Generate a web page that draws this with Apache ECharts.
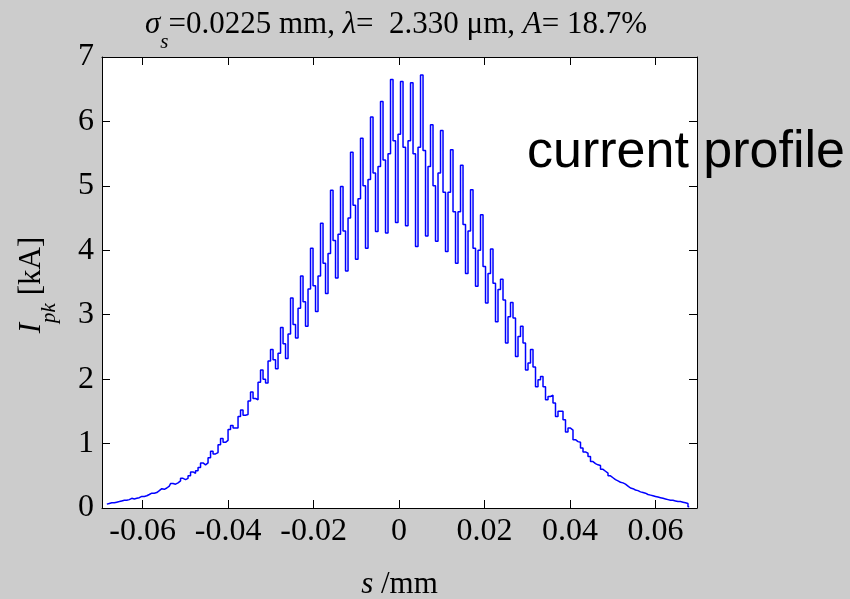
<!DOCTYPE html>
<html>
<head>
<meta charset="utf-8">
<script src="https://cdn.jsdelivr.net/npm/echarts@6/dist/echarts.min.js"></script>
<style>
  html, body { margin: 0; padding: 0; background: #cccccc; }
  #chart { width: 850px; height: 599px; }
</style>
</head>
<body>
<div id="chart"></div>
<script>
// Longitudinal position of each histogram bin centre, in mm
const sMm = [
  -0.06837, -0.06779,
  -0.06721, -0.06662, -0.06604, -0.06545,
  -0.06487, -0.06428, -0.06370, -0.06311,
  -0.06253, -0.06194, -0.06136, -0.06077,
  -0.06019, -0.05960, -0.05902, -0.05843,
  -0.05785, -0.05726, -0.05668, -0.05609,
  -0.05551, -0.05492, -0.05434, -0.05375,
  -0.05317, -0.05259, -0.05200, -0.05142,
  -0.05083, -0.05025, -0.04966, -0.04908,
  -0.04849, -0.04791, -0.04732, -0.04674,
  -0.04615, -0.04557, -0.04498, -0.04440,
  -0.04381, -0.04323, -0.04264, -0.04206,
  -0.04147, -0.04089, -0.04030, -0.03972,
  -0.03913, -0.03855, -0.03797, -0.03738,
  -0.03680, -0.03621, -0.03563, -0.03504,
  -0.03446, -0.03387, -0.03329, -0.03270,
  -0.03212, -0.03153, -0.03095, -0.03036,
  -0.02978, -0.02919, -0.02861, -0.02802,
  -0.02744, -0.02685, -0.02627, -0.02568,
  -0.02510, -0.02451, -0.02393, -0.02334,
  -0.02276, -0.02218, -0.02159, -0.02101,
  -0.02042, -0.01984, -0.01925, -0.01867,
  -0.01808, -0.01750, -0.01691, -0.01633,
  -0.01574, -0.01516, -0.01457, -0.01399,
  -0.01340, -0.01282, -0.01223, -0.01165,
  -0.01106, -0.01048, -0.00990, -0.00931,
  -0.00873, -0.00814, -0.00756, -0.00697,
  -0.00639, -0.00580, -0.00522, -0.00463,
  -0.00405, -0.00346, -0.00288, -0.00229,
  -0.00171, -0.00112, -0.00054, 0.00005,
  0.00063, 0.00122, 0.00180, 0.00239,
  0.00297, 0.00356, 0.00414, 0.00473,
  0.00531, 0.00590, 0.00648, 0.00706,
  0.00765, 0.00823, 0.00882, 0.00940,
  0.00999, 0.01057, 0.01116, 0.01174,
  0.01233, 0.01291, 0.01350, 0.01408,
  0.01467, 0.01525, 0.01584, 0.01642,
  0.01701, 0.01759, 0.01818, 0.01876,
  0.01935, 0.01993, 0.02052, 0.02110,
  0.02168, 0.02227, 0.02285, 0.02344,
  0.02402, 0.02461, 0.02519, 0.02578,
  0.02636, 0.02695, 0.02753, 0.02812,
  0.02870, 0.02929, 0.02987, 0.03046,
  0.03104, 0.03163, 0.03221, 0.03280,
  0.03338, 0.03397, 0.03455, 0.03514,
  0.03572, 0.03630, 0.03689, 0.03747,
  0.03806, 0.03864, 0.03923, 0.03981,
  0.04040, 0.04098, 0.04157, 0.04215,
  0.04274, 0.04332, 0.04391, 0.04449,
  0.04508, 0.04566, 0.04625, 0.04683,
  0.04742, 0.04800, 0.04859, 0.04917,
  0.04975, 0.05034, 0.05092, 0.05151,
  0.05209, 0.05268, 0.05326, 0.05385,
  0.05443, 0.05502, 0.05560, 0.05619,
  0.05677, 0.05736, 0.05794, 0.05853,
  0.05911, 0.05970, 0.06028, 0.06087,
  0.06145, 0.06204, 0.06262, 0.06321,
  0.06379, 0.06437, 0.06496, 0.06554,
  0.06613, 0.06671, 0.06730, 0.06788
];

// Peak current in each bin, in kA
const iKA = [
  0.06, 0.07,
  0.08, 0.08, 0.09, 0.10,
  0.11, 0.12, 0.12, 0.13,
  0.15, 0.14, 0.15, 0.16,
  0.18, 0.18, 0.19, 0.21,
  0.23, 0.23, 0.24, 0.27,
  0.30, 0.29, 0.31, 0.34,
  0.38, 0.37, 0.39, 0.42,
  0.46, 0.44, 0.46, 0.50,
  0.56, 0.54, 0.58, 0.63,
  0.70, 0.67, 0.70, 0.78,
  0.88, 0.84, 0.86, 0.98,
  1.08, 1.02, 1.05, 1.22,
  1.28, 1.24, 1.24, 1.42,
  1.52, 1.44, 1.45, 1.66,
  1.80, 1.70, 1.68, 1.95,
  2.14, 2.00, 1.94, 2.28,
  2.46, 2.30, 2.16, 2.40,
  2.80, 2.55, 2.32, 2.70,
  3.26, 2.85, 2.64, 3.10,
  3.60, 3.20, 2.82, 3.40,
  4.03, 3.45, 3.05, 3.60,
  4.42, 3.80, 3.33, 3.95,
  4.93, 4.15, 3.57, 4.25,
  4.99, 4.30, 3.68, 4.50,
  5.52, 4.70, 3.86, 4.80,
  5.74, 5.00, 4.03, 5.10,
  6.07, 5.20, 4.29, 5.30,
  6.31, 5.40, 4.27, 5.50,
  6.65, 5.70, 4.43, 5.80,
  6.62, 5.60, 4.38, 5.70,
  6.60, 5.50, 4.06, 5.60,
  6.72, 5.55, 4.22, 5.30,
  5.95, 5.00, 4.14, 5.20,
  5.86, 4.90, 3.98, 4.90,
  5.56, 4.60, 3.80, 4.60,
  5.32, 4.40, 3.64, 4.30,
  4.94, 4.03, 3.44, 4.00,
  4.55, 3.75, 3.18, 3.64,
  4.02, 3.49, 2.89, 3.39,
  3.55, 3.23, 2.56, 2.97,
  3.19, 2.95, 2.35, 2.66,
  2.82, 2.56, 2.14, 2.25,
  2.46, 2.19, 1.88, 1.99,
  2.04, 1.88, 1.68, 1.73,
  1.75, 1.63, 1.42, 1.50,
  1.50, 1.37, 1.18, 1.24,
  1.21, 1.06, 1.03, 1.02,
  0.93, 0.87, 0.85, 0.80,
  0.72, 0.69, 0.67, 0.66,
  0.60, 0.57, 0.54, 0.50,
  0.47, 0.44, 0.42, 0.40,
  0.39, 0.37, 0.34, 0.31,
  0.30, 0.28, 0.27, 0.25,
  0.24, 0.23, 0.21, 0.20,
  0.19, 0.18, 0.17, 0.16,
  0.15, 0.14, 0.13, 0.12,
  0.12, 0.11, 0.10, 0.10,
  0.09, 0.08, 0.07, 0.02
];

const xTicks = [-0.06, -0.04, -0.02, 0, 0.02, 0.04, 0.06];
const xLabels = ['-0.06', '-0.04', '-0.02', '0', '0.02', '0.04', '0.06'];
const yMin = 0, yMax = 7, yStep = 1;
const xMin = -0.0695, xMax = 0.0697;

const serif = 'Liberation Serif';
const chart = echarts.init(document.getElementById('chart'), null, { renderer: 'canvas' });

const boxAxisX = (pos, withLabels) => ({
  type: 'value', position: pos, min: xMin, max: xMax,
  axisLine: { show: true, onZero: false, lineStyle: { color: '#000', width: 1 } },
  axisTick: { show: true, inside: true, length: 8, customValues: xTicks, lineStyle: { color: '#000', width: 1 } },
  axisLabel: {
    show: withLabels, customValues: xTicks, margin: 8,
    fontFamily: serif, fontSize: 32, color: '#000',
    formatter: v => xLabels[xTicks.findIndex(t => Math.abs(t - v) < 1e-9)]
  },
  splitLine: { show: false }
});

const boxAxisY = (pos, withLabels) => ({
  type: 'value', position: pos, min: yMin, max: yMax, interval: yStep,
  axisLine: { show: true, onZero: false, lineStyle: { color: '#000', width: 1 } },
  axisTick: { show: true, inside: true, length: 8, lineStyle: { color: '#000', width: 1 } },
  axisLabel: { show: withLabels, margin: 8, fontFamily: serif, fontSize: 32, color: '#000' },
  splitLine: { show: false }
});

const xBottom = boxAxisX('bottom', true);
xBottom.name = '{i|s} /mm';
xBottom.nameLocation = 'middle';
xBottom.nameGap = 61;
xBottom.nameTextStyle = {
  fontFamily: serif, fontSize: 31, color: '#000',
  rich: { i: { fontFamily: serif, fontSize: 31, fontStyle: 'italic', color: '#000' } }
};

chart.setOption({
  backgroundColor: '#cccccc',
  animation: false,
  grid: {
    left: 102, top: 57, width: 595, height: 451,
    outerBoundsMode: 'none', containLabel: false,
    show: true, backgroundColor: '#ffffff', borderWidth: 0
  },
  xAxis: [xBottom, boxAxisX('top', false)],
  yAxis: [boxAxisY('left', true), boxAxisY('right', false)],
  series: [{
    type: 'line',
    xAxisIndex: 0, yAxisIndex: 0,
    step: 'middle',
    showSymbol: false,
    symbol: 'none',
    clip: true,
    lineStyle: { color: '#0000ff', width: 1.5 },
    data: sMm.map((s, k) => [s, iKA[k]])
  }],
  graphic: [
    {
      type: 'text', x: 396, y: 25, z: 10,
      style: {
        text: '{i|σ}{sub|s}{n|=0.0225 mm, }{i|λ}{n|=  2.330 μm, }{i|A}{n|= 18.7%}',
        align: 'center', verticalAlign: 'middle',
        rich: {
          n: { fontFamily: serif, fontSize: 31, fill: '#000', lineHeight: 31, verticalAlign: 'top' },
          i: { fontFamily: serif, fontSize: 31, fontStyle: 'italic', fill: '#000', lineHeight: 31, verticalAlign: 'top' },
          sub: { fontFamily: serif, fontSize: 21, fontStyle: 'italic', fill: '#000', lineHeight: 21, padding: [22, 0, 0, 0], verticalAlign: 'top' }
        }
      }
    },
    {
      type: 'text', x: 32, y: 285, rotation: Math.PI / 2, z: 10,
      style: {
        text: '{i|I}{sub|pk}{n| [kA]}',
        align: 'center', verticalAlign: 'middle',
        rich: {
          n: { fontFamily: serif, fontSize: 31, fill: '#000', lineHeight: 31, verticalAlign: 'top' },
          i: { fontFamily: serif, fontSize: 31, fontStyle: 'italic', fill: '#000', lineHeight: 31, verticalAlign: 'top' },
          sub: { fontFamily: serif, fontSize: 21, fontStyle: 'italic', fill: '#000', lineHeight: 21, padding: [22, 0, 0, 0], verticalAlign: 'top' }
        }
      }
    },
    {
      type: 'text', x: 527, y: 153, z: 20,
      style: {
        text: 'current profile',
        fontFamily: 'Liberation Sans', fontSize: 52, fill: '#000',
        align: 'left', verticalAlign: 'middle'
      }
    }
  ]
});
</script>
</body>
</html>
